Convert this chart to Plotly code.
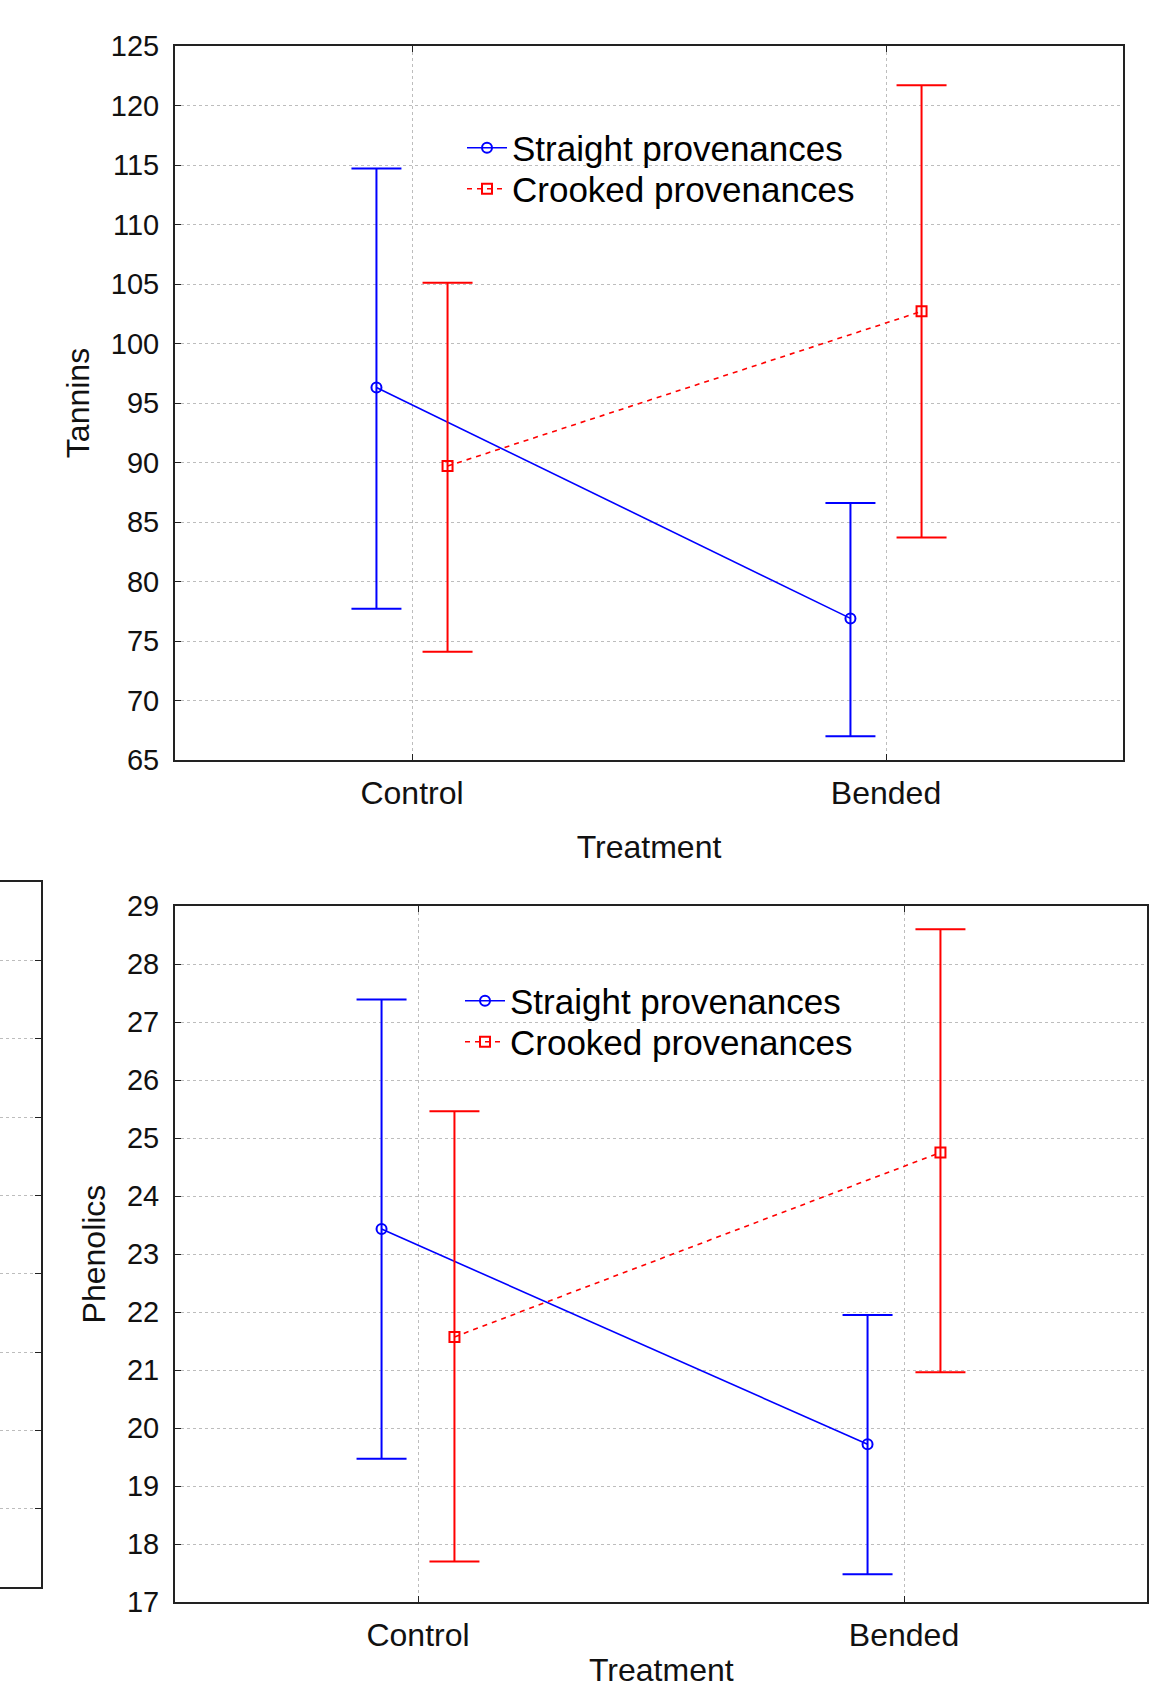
import plotly.graph_objects as go

# ---------------- data ----------------
treatments = ["Control", "Bended"]
series_names = ["Straight provenances", "Crooked provenances"]

tannins_straight_mean = [96.3, 76.9]
tannins_straight_upper = [114.7, 86.6]
tannins_straight_lower = [77.7, 67.0]
tannins_crooked_mean = [89.7, 102.7]
tannins_crooked_upper = [105.1, 121.7]
tannins_crooked_lower = [74.1, 83.7]

phenolics_straight_mean = [23.43, 19.72]
phenolics_straight_upper = [27.39, 21.95]
phenolics_straight_lower = [19.47, 17.48]
phenolics_crooked_mean = [21.57, 24.75]
phenolics_crooked_upper = [25.46, 28.6]
phenolics_crooked_lower = [17.7, 20.96]

tannin_ticks = [65, 70, 75, 80, 85, 90, 95, 100, 105, 110, 115, 120, 125]
phenolic_ticks = [17, 18, 19, 20, 21, 22, 23, 24, 25, 26, 27, 28, 29]

# ---------------- styling ----------------
FONT = "Arial, 'Liberation Sans', sans-serif"
BLUE = "#0000ff"
RED = "#ff0000"
GRID = "#bdbdbd"
OFFSET = 0.075
W, H = 1174, 1691

xpos = list(range(len(treatments)))


def add_panel(fig, means_s, up_s, lo_s, means_c, up_c, lo_c, xa, ya, legends):
    for means, up, lo, color, sym, dash, name, off, leg in [
        (means_s, up_s, lo_s, BLUE, "circle-open", "solid", series_names[0], -OFFSET, legends[0]),
        (means_c, up_c, lo_c, RED, "square-open", "5px,5px", series_names[1], OFFSET, legends[1]),
    ]:
        fig.add_trace(go.Scatter(
            x=[p + off for p in xpos], y=means,
            mode="lines+markers", name=name,
            line=dict(color=color, width=1.6, dash=dash),
            marker=dict(symbol=sym, size=10, color=color, line=dict(width=2, color=color)),
            error_y=dict(type="data", symmetric=False,
                         array=[u - m for u, m in zip(up, means)],
                         arrayminus=[m - l for m, l in zip(means, lo)],
                         color=color, thickness=2, width=25),
            xaxis=xa, yaxis=ya, legend=leg, showlegend=True,
        ))


fig = go.Figure()
add_panel(fig, tannins_straight_mean, tannins_straight_upper, tannins_straight_lower,
          tannins_crooked_mean, tannins_crooked_upper, tannins_crooked_lower, "x", "y",
          ("legend", "legend2"))
add_panel(fig, phenolics_straight_mean, phenolics_straight_upper, phenolics_straight_lower,
          phenolics_crooked_mean, phenolics_crooked_upper, phenolics_crooked_lower, "x2", "y2",
          ("legend3", "legend4"))

# partial neighbouring panel on the left edge (empty frame)
fig.add_trace(go.Scatter(x=[], y=[], xaxis="x3", yaxis="y3", showlegend=False))

xcommon = dict(range=[-0.5, 1.5], tickvals=xpos, ticktext=treatments, automargin=False,
               showline=True, linecolor="#222", linewidth=2, mirror="ticks",
               ticks="inside", ticklen=6, tickcolor="#222", ticklabelstandoff=4,
               showgrid=True, gridcolor=GRID, griddash="dot", gridwidth=1,
               zeroline=False, tickfont=dict(family=FONT, size=32, color="#111"))
ycommon = dict(showline=True, linecolor="#222", linewidth=2, mirror=True, automargin=False,
               ticks="inside", ticklen=6, tickcolor="#222",
               showgrid=True, gridcolor=GRID, griddash="dot", gridwidth=1,
               zeroline=False, tickfont=dict(family=FONT, size=29, color="#111"),
               ticklabelstandoff=8)
title_font = dict(family=FONT, size=32, color="#111")

legcommon = dict(font=dict(family=FONT, size=35, color="#000"), bgcolor="rgba(255,255,255,0)",
                 borderwidth=0, itemwidth=40, tracegroupgap=0, xanchor="left", yanchor="middle",
                 itemclick=False)

fig.update_layout(
    width=W, height=H,
    margin=dict(l=0, r=0, t=0, b=0),
    paper_bgcolor="white", plot_bgcolor="white",
    xaxis=dict(domain=[175 / W, 1123 / W], anchor="y",
               title=dict(text="Treatment", font=title_font, standoff=25), **xcommon),
    yaxis=dict(domain=[1 - 760 / H, 1 - 46 / H], anchor="x", range=[65, 125],
               tickvals=tannin_ticks,
               title=dict(text="Tannins", font=title_font, standoff=12),
               **ycommon),
    xaxis2=dict(domain=[175 / W, 1147 / W], anchor="y2", **xcommon),
    yaxis2=dict(domain=[1 - 1602 / H, 1 - 906 / H], anchor="x2", range=[17, 29],
                tickvals=phenolic_ticks,
                title=dict(text="Phenolics", font=title_font, standoff=12),
                **ycommon),
    xaxis3=dict(domain=[0, 41 / W], anchor="y3", range=[0, 1], showline=True, mirror=True,
                linecolor="#222", linewidth=2, showticklabels=False, ticks="", automargin=False,
                showgrid=False, zeroline=False),
    yaxis3=dict(domain=[1 - 1587 / H, 1 - 882 / H], anchor="x3", range=[0, 9], dtick=1,
                side="right", showline=True, mirror=False, linecolor="#222", linewidth=2,
                ticks="inside", ticklen=6, tickcolor="#222", showticklabels=False, automargin=False,
                showgrid=True, gridcolor=GRID, griddash="dot", gridwidth=1, zeroline=False),
    legend=dict(x=462 / W, y=1 - 148 / H, **legcommon),
    legend2=dict(x=462 / W, y=1 - 189 / H, **legcommon),
    legend3=dict(x=460 / W, y=1 - 1001 / H, **legcommon),
    legend4=dict(x=460 / W, y=1 - 1042 / H, **legcommon),
    annotations=[dict(text="Treatment", xref="x2 domain", yref="y2 domain",
                      x=0.5, y=-0.097, xanchor="center", yanchor="middle",
                      showarrow=False, font=title_font)],
)

fig.write_html("out.html")
